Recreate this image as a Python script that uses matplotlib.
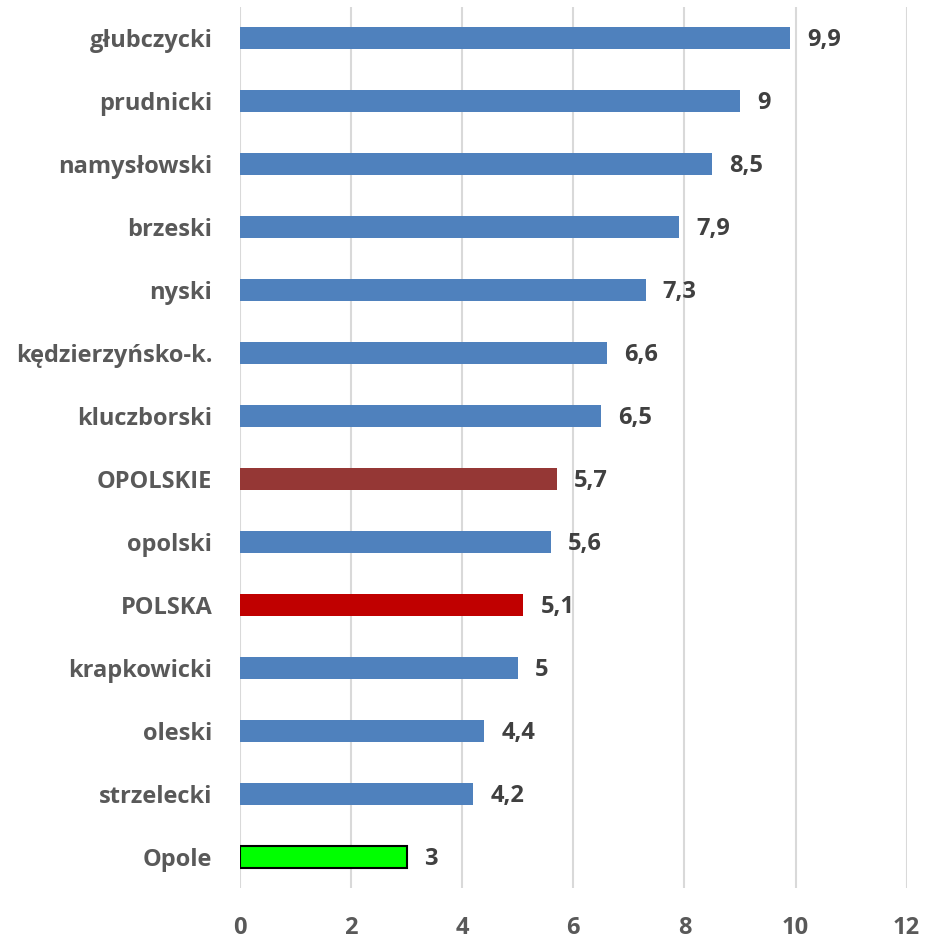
import matplotlib
matplotlib.use("Agg")
import matplotlib.pyplot as plt

categories = ["głubczycki", "prudnicki", "namysłowski", "brzeski", "nyski",
              "kędzierzyńsko-k.", "kluczborski", "OPOLSKIE", "opolski", "POLSKA",
              "krapkowicki", "oleski", "strzelecki", "Opole"]
values = [9.9, 9, 8.5, 7.9, 7.3, 6.6, 6.5, 5.7, 5.6, 5.1, 5, 4.4, 4.2, 3]
value_labels = ["9,9", "9", "8,5", "7,9", "7,3", "6,6", "6,5", "5,7", "5,6", "5,1", "5", "4,4", "4,2", "3"]
xticks = [0, 2, 4, 6, 8, 10, 12]

colors = []
edges = []
for c in categories:
    if c == "OPOLSKIE":
        colors.append("#953735"); edges.append("none")
    elif c == "POLSKA":
        colors.append("#C00000"); edges.append("none")
    elif c == "Opole":
        colors.append("#00FF00"); edges.append("black")
    else:
        colors.append("#4F81BD"); edges.append("none")

plt.rcParams['font.family'] = ['Open Sans', 'DejaVu Sans']
fig = plt.figure(figsize=(9.27, 9.40), dpi=100)
ax = fig.add_axes([0.259, 0.055, 0.719, 0.938])

ypos = list(range(len(categories)))
bars = ax.barh(ypos, values, height=0.35, color=colors, edgecolor=edges, linewidth=1.5, zorder=3)
ax.set_ylim(len(categories) - 0.5, -0.5)
ax.set_xlim(0, 12)
ax.set_xticks(xticks)
ax.set_xticklabels([str(t) for t in xticks], fontsize=17, fontweight='bold', color='#595959')
ax.set_yticks(ypos)
ax.set_yticklabels(categories, fontsize=17, fontweight='bold', color='#595959')
ax.tick_params(axis='both', length=0)
ax.tick_params(axis='x', pad=20)
ax.tick_params(axis='y', pad=20)
for s in ax.spines.values():
    s.set_visible(False)
ax.grid(axis='x', color='#D9D9D9', linewidth=1.5, zorder=0)
ax.set_axisbelow(True)

for y, v, lab in zip(ypos, values, value_labels):
    ax.annotate(lab, (v, y), xytext=(17, -2), textcoords='offset pixels',
                va='center', ha='left', fontsize=17, fontweight='bold', color='#404040')

fig.savefig("out.png", dpi=100)
